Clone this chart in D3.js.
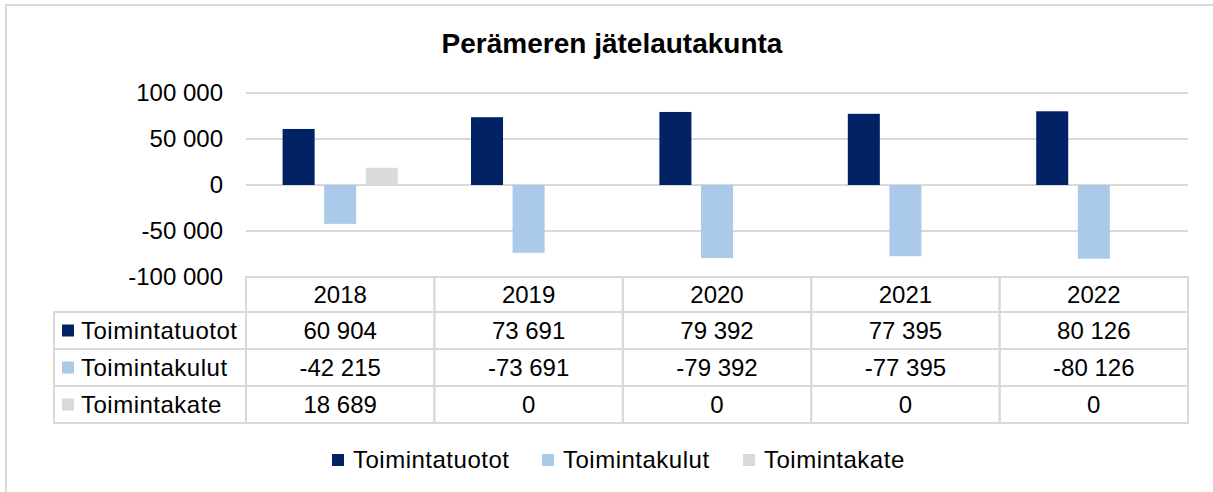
<!DOCTYPE html>
<html lang="fi">
<head>
  <meta charset="UTF-8">
  <title>Perämeren jätelautakunta</title>
  <script src="https://d3js.org/d3.v7.min.js"></script>
  <style>
    body { margin: 0; background: #fff; }
    svg { display: block; font-family: "Liberation Sans", Arial, sans-serif; }
    .grid line { stroke: #d9d9d9; stroke-width: 2px; }
    .cell { fill: none; stroke: #d9d9d9; stroke-width: 2px; }
    .name { letter-spacing: 0.5px; }
    text { fill: #000; }
  </style>
</head>
<body>
  <svg id="chart" width="1213" height="492"></svg>
  <script>
    // data
    const years = ["2018", "2019", "2020", "2021", "2022"];
    const seriesNames = ["Toimintatuotot", "Toimintakulut", "Toimintakate"];
    const tuotot = [60904, 73691, 79392, 77395, 80126];
    const kulut = [-42215, -73691, -79392, -77395, -80126];
    const kate = [18689, 0, 0, 0, 0];
    const yTicks = [100000, 50000, 0, -50000, -100000];
    const colors = ["#022266", "#abcae9", "#dadad6"];

    const values = [tuotot, kulut, kate];

    const width = 1213, height = 492;
    const plot = { left: 246, right: 1188, top: 93, bottom: 277 };
    const rowH = 37, headH = 35, firstColX = 54;

    const fmt = d3.formatLocale({ decimal: ",", thousands: "\u00a0", grouping: [3], currency: ["", "€"], minus: "-" }).format(",d");

    const svg = d3.select("#chart");

    // outer chart border (only top and left show)
    svg.append("path")
      .attr("d", `M6,${height} L6,5 L${width},5`)
      .attr("fill", "none")
      .attr("stroke", "#d9d9d9")
      .attr("stroke-width", 2);

    svg.append("text")
      .attr("x", 612)
      .attr("y", 53)
      .attr("text-anchor", "middle")
      .style("font-size", "28px")
      .style("font-weight", "bold")
      .text("Perämeren jätelautakunta");

    const x0 = d3.scaleBand().domain(years).range([plot.left, plot.right]);
    const x1 = d3.scaleBand().domain(seriesNames).range([0, x0.bandwidth()])
      .paddingInner(0.23).paddingOuter(0.88);
    const y = d3.scaleLinear().domain([-100000, 100000]).range([plot.bottom, plot.top]);

    // gridlines
    svg.append("g").attr("class", "grid")
      .selectAll("line")
      .data(yTicks.filter(t => t > -100000))
      .join("line")
      .attr("x1", plot.left).attr("x2", plot.right)
      .attr("y1", d => y(d)).attr("y2", d => y(d));

    // y labels
    svg.append("g")
      .selectAll("text")
      .data(yTicks)
      .join("text")
      .attr("x", 223)
      .attr("y", d => y(d))
      .attr("dy", "0.35em")
      .attr("text-anchor", "end")
      .style("font-size", "24px")
      .text(d => fmt(d));

    // bars
    const groups = svg.append("g")
      .selectAll("g")
      .data(years)
      .join("g")
      .attr("transform", d => `translate(${x0(d)},0)`);

    groups.selectAll("rect")
      .data((d, i) => seriesNames.map((s, k) => ({ s, k, v: values[k][i] })))
      .join("rect")
      .attr("x", d => x1(d.s))
      .attr("width", x1.bandwidth())
      .attr("y", d => y(Math.max(0, d.v)))
      .attr("height", d => Math.abs(y(d.v) - y(0)))
      .attr("fill", d => colors[d.k]);

    // data table
    const table = svg.append("g");
    const rowTop = i => plot.bottom + headH + i * rowH;

    // header cells
    table.selectAll(".head")
      .data(years)
      .join("rect")
      .attr("class", "cell")
      .attr("x", d => x0(d)).attr("y", plot.bottom)
      .attr("width", x0.bandwidth()).attr("height", headH);

    table.selectAll(".year")
      .data(years)
      .join("text")
      .attr("x", d => x0(d) + x0.bandwidth() / 2)
      .attr("y", plot.bottom + headH / 2)
      .attr("dy", "0.35em")
      .attr("text-anchor", "middle")
      .style("font-size", "24px")
      .text(d => d);

    seriesNames.forEach((name, k) => {
      const top = rowTop(k);
      table.append("rect").attr("class", "cell")
        .attr("x", firstColX).attr("y", top)
        .attr("width", plot.left - firstColX).attr("height", rowH);
      table.append("rect")
        .attr("x", 62).attr("y", top + rowH / 2 - 6)
        .attr("width", 12).attr("height", 12)
        .attr("fill", colors[k]);
      table.append("text")
        .attr("class", "name")
        .attr("x", 81).attr("y", top + rowH / 2)
        .attr("dy", "0.35em")
        .style("font-size", "24px")
        .text(name);
      years.forEach((yr, i) => {
        table.append("rect").attr("class", "cell")
          .attr("x", x0(yr)).attr("y", top)
          .attr("width", x0.bandwidth()).attr("height", rowH);
        table.append("text")
          .attr("x", x0(yr) + x0.bandwidth() / 2)
          .attr("y", top + rowH / 2)
          .attr("dy", "0.35em")
          .attr("text-anchor", "middle")
          .style("font-size", "24px")
          .text(fmt(values[k][i]));
      });
    });

    // legend
    const legendX = [332, 542, 743];
    const legend = svg.append("g")
      .selectAll("g")
      .data(seriesNames)
      .join("g")
      .attr("transform", (d, i) => `translate(${legendX[i]},460)`);
    legend.append("rect")
      .attr("x", 0).attr("y", -6)
      .attr("width", 12).attr("height", 12)
      .attr("fill", (d, i) => colors[i]);
    legend.append("text")
      .attr("class", "name")
      .attr("x", 21)
      .attr("dy", "0.35em")
      .style("font-size", "24px")
      .text(d => d);
  </script>
</body>
</html>
